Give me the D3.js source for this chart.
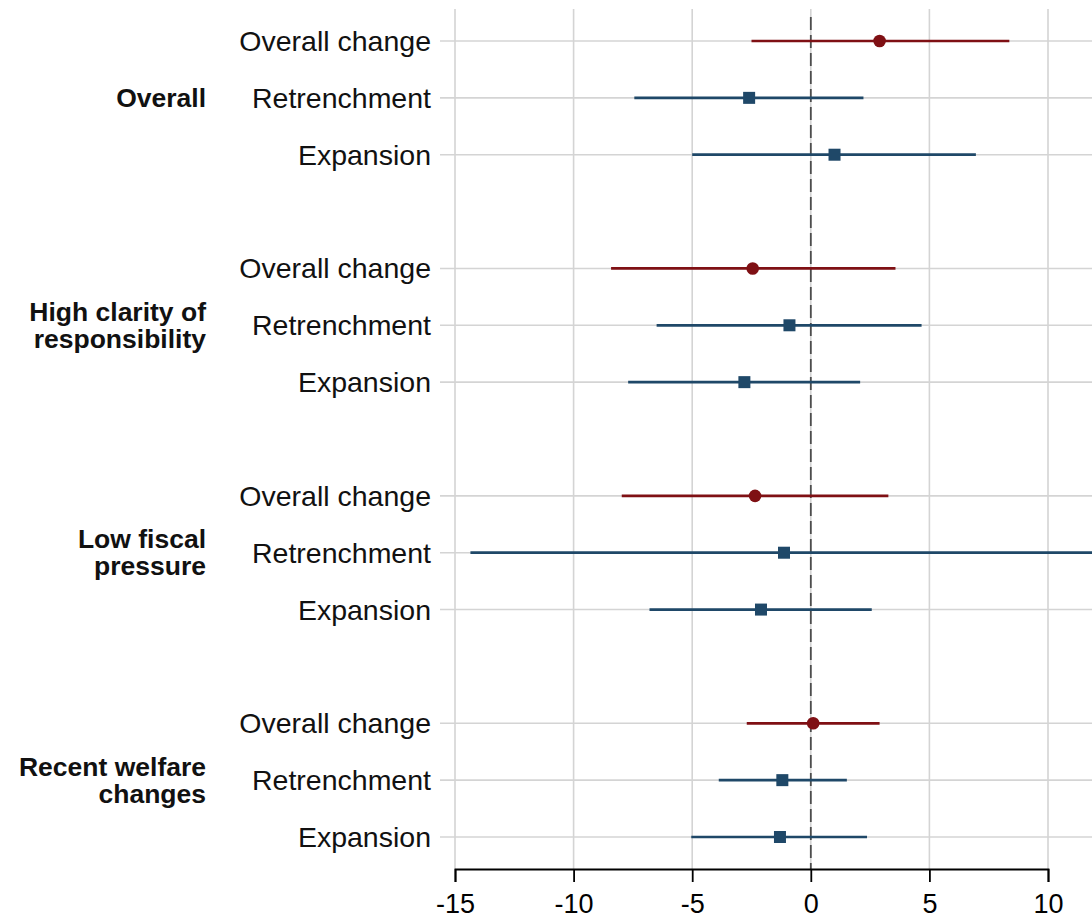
<!DOCTYPE html>
<html>
<head>
<meta charset="utf-8">
<script src="https://cdn.jsdelivr.net/npm/d3@7"></script>
<style>
  body { margin: 0; background: #fff; }
  svg { display: block; font-family: "Liberation Sans", Arial, Helvetica, sans-serif; }
</style>
</head>
<body>
<svg id="chart" width="1092" height="922"></svg>
<script>
// groups and the rows within each group
const groups = [
  ["Overall"],
  ["High clarity of", "responsibility"],
  ["Low fiscal", "pressure"],
  ["Recent welfare", "changes"]
];
const terms = ["Overall change", "Retrenchment", "Expansion"];

// point estimates and intervals, group by group, row by row
const estimate = [2.9, -2.6, 1.0,  -2.45, -0.9, -2.8,  -2.35, -1.13, -2.1,  0.1, -1.2, -1.3];
const lower    = [-2.5, -7.44, -5.0,  -8.42, -6.5, -7.7,  -7.97, -14.35, -6.8,  -2.7, -3.88, -5.04];
const upper    = [8.37, 2.22, 6.96,  3.57, 4.67, 2.08,  3.27, 12.1, 2.57,  2.9, 1.52, 2.37];

const xTicks = [-15, -10, -5, 0, 5, 10];

const red = "#7f1014";
const blue = "#1f4868";
const gridColor = "#d4d4d4";

const svg = d3.select("#chart");
const W = 1092;
const plotTop = 9, axisY = 869;

const x = d3.scaleLinear().domain([-15, 10]).range([455, 1048]);

// 12 rows + a blank slot between groups => 15 slots
const rows = [];
groups.forEach((g, gi) => {
  terms.forEach((t, ti) => {
    const i = gi * 3 + ti;
    rows.push({ group: gi, term: t, slot: gi * 4 + ti,
      est: estimate[i], lo: lower[i], hi: upper[i], overall: ti === 0 });
  });
});
const y = d3.scaleLinear().domain([0, 14]).range([41, 837]);

// vertical grid
svg.append("g").selectAll("line").data(xTicks).join("line")
  .attr("x1", d => x(d)).attr("x2", d => x(d))
  .attr("y1", plotTop).attr("y2", axisY)
  .attr("stroke", gridColor).attr("stroke-width", 1.6);

// horizontal grid (with the little tick stubs on the left)
svg.append("g").selectAll("line").data(rows).join("line")
  .attr("x1", 440).attr("x2", W)
  .attr("y1", d => y(d.slot)).attr("y2", d => y(d.slot))
  .attr("stroke", gridColor).attr("stroke-width", 1.6);

// zero reference line
svg.append("line")
  .attr("x1", x(0)).attr("x2", x(0))
  .attr("y1", 17).attr("y2", axisY)
  .attr("stroke", "#4d4d4d").attr("stroke-width", 1.8)
  .attr("stroke-dasharray", "13,5");

// interval lines
svg.append("g").selectAll("line").data(rows).join("line")
  .attr("x1", d => x(d.lo)).attr("x2", d => x(d.hi))
  .attr("y1", d => y(d.slot)).attr("y2", d => y(d.slot))
  .attr("stroke", d => d.overall ? red : blue)
  .attr("stroke-width", 2.7);

// points: circles for overall change, squares otherwise
svg.append("g").selectAll("circle").data(rows.filter(d => d.overall)).join("circle")
  .attr("cx", d => x(d.est)).attr("cy", d => y(d.slot))
  .attr("r", 6.3).attr("fill", red);

svg.append("g").selectAll("rect").data(rows.filter(d => !d.overall)).join("rect")
  .attr("x", d => x(d.est) - 6).attr("y", d => y(d.slot) - 6)
  .attr("width", 12).attr("height", 12).attr("fill", blue);

// row labels
svg.append("g").selectAll("text").data(rows).join("text")
  .attr("x", 431).attr("y", d => y(d.slot))
  .attr("dy", "0.35em")
  .attr("text-anchor", "end")
  .attr("font-size", 28.5)
  .attr("fill", "#111")
  .text(d => d.term);

// group labels
groups.forEach((g, gi) => {
  const cy = y(gi * 4 + 1);
  const lh = 27;
  const t = svg.append("text")
    .attr("text-anchor", "end")
    .attr("font-size", 26.5)
    .attr("font-weight", "bold")
    .attr("fill", "#111");
  g.forEach((line, li) => {
    t.append("tspan")
      .attr("x", 206)
      .attr("y", cy + (li - (g.length - 1) / 2) * lh)
      .attr("dy", "0.35em")
      .text(line);
  });
});

// x axis
const axis = svg.append("g")
  .attr("transform", `translate(0,${axisY})`)
  .call(d3.axisBottom(x).tickValues(xTicks).tickSize(13).tickFormat(d3.format("d")));
axis.select(".domain").attr("stroke", "#000").attr("stroke-width", 1.8);
axis.selectAll(".tick line").attr("stroke", "#000").attr("stroke-width", 1.8);
axis.selectAll(".tick text")
  .attr("font-size", 27)
  .attr("font-family", "'Liberation Sans', Arial, sans-serif")
  .attr("fill", "#000")
  .attr("y", 44).attr("dy", 0)
  .text(d => d < 0 ? "-" + Math.abs(d) : d);
</script>
</body>
</html>
